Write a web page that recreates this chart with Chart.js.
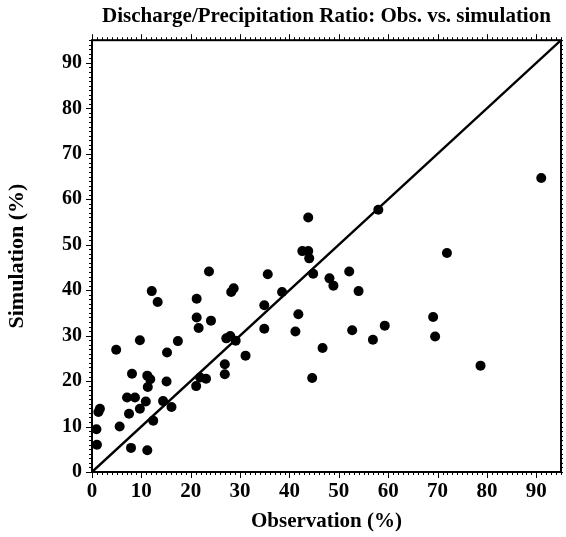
<!DOCTYPE html>
<html>
<head>
<meta charset="utf-8">
<script src="https://cdn.jsdelivr.net/npm/chart.js@4/dist/chart.umd.min.js"></script>
<style>
  html, body { margin: 0; padding: 0; background: #fff; }
  #wrap { width: 566px; height: 537px; }
</style>
</head>
<body>
<div id="wrap"><canvas id="c" width="566" height="537"></canvas></div>
<script>
const obsX = [4.9, 9.7, 17.4, 1.3, 1.6, 0.9, 1.0, 5.6, 7.1, 8.7, 8.1, 7.5, 7.9, 9.7, 10.9, 11.3, 11.2, 11.8, 11.2, 12.4,
  15.2, 15.1, 14.4, 16.1, 21.1, 21.9, 23.1, 26.9, 26.9, 27.2, 28.0, 29.1, 31.1,
  12.1, 13.3, 23.7, 21.2, 21.2, 21.6, 24.1, 28.2, 28.7, 34.9, 35.6, 34.9, 43.8, 58.0, 42.6, 43.8, 44.0, 44.8,
  48.1, 48.9, 52.1, 54.0, 38.5, 41.8, 41.2, 52.7, 59.3, 56.9, 46.7, 44.6, 69.1, 69.5, 78.7, 71.9, 91.0];
const simY = [26.9, 29.0, 28.8, 13.2, 13.9, 9.4, 6.0, 10.0, 16.4, 16.4, 21.6, 12.8, 5.3, 13.9, 15.5, 18.7, 21.2, 20.4, 4.8, 11.3,
  26.3, 19.9, 15.6, 14.3, 18.9, 20.8, 20.5, 23.7, 21.5, 29.4, 29.9, 28.9, 25.6,
  39.8, 37.4, 44.1, 38.1, 34.0, 31.7, 33.3, 39.6, 40.4, 36.7, 43.5, 31.5, 56.0, 57.7, 48.6, 48.6, 47.0, 43.6,
  42.6, 41.0, 44.1, 39.8, 39.6, 34.7, 30.9, 31.2, 32.2, 29.1, 27.3, 20.7, 34.1, 29.8, 23.4, 48.2, 64.7];
const lineX = [0, 95];
const lineY = [0, 95];
const tickValues = [0, 10, 20, 30, 40, 50, 60, 70, 80, 90];
const tickLabels = ['0', '10', '20', '30', '40', '50', '60', '70', '80', '90'];
const titleText = 'Discharge/Precipitation Ratio: Obs. vs. simulation';
const xTitle = 'Observation (%)';
const yTitle = 'Simulation (%)';

const SERIF = "'Liberation Serif', 'Times New Roman', serif";

const framePlugin = {
  id: 'frame',
  afterDraw(chart) {
    const { ctx, chartArea: { left, right, top, bottom }, scales: { x, y } } = chart;
    ctx.save();
    ctx.strokeStyle = '#000';
    ctx.lineWidth = 2;
    ctx.strokeRect(left, top, right - left, bottom - top);
    ctx.lineWidth = 1;
    ctx.beginPath();
    for (let v = 0; v <= 95; v++) {
      const px = Math.round(x.getPixelForValue(v)) + 0.5;
      const py = Math.round(y.getPixelForValue(v)) + 0.5;
      const major = v % 10 === 0;
      const L = major ? 6 : 3;
      ctx.moveTo(px, bottom); ctx.lineTo(px, bottom + L);
      ctx.moveTo(px, top); ctx.lineTo(px, top - L);
      ctx.moveTo(left, py); ctx.lineTo(left - L, py);
      ctx.moveTo(right, py); ctx.lineTo(right + 2, py);
    }
    ctx.stroke();
    ctx.restore();
  }
};

const setTicks = (scale) => { scale.ticks = tickValues.map(v => ({ value: v })); };

new Chart(document.getElementById('c'), {
  type: 'scatter',
  data: {
    datasets: [
      {
        data: obsX.map((v, i) => ({ x: v, y: simY[i] })),
        backgroundColor: '#000',
        borderColor: '#000',
        pointRadius: 5,
        pointHoverRadius: 5,
        borderWidth: 0
      },
      {
        type: 'line',
        data: lineX.map((v, i) => ({ x: v, y: lineY[i] })),
        borderColor: '#000',
        borderWidth: 2.4,
        pointRadius: 0,
        fill: false,
        tension: 0
      }
    ]
  },
  options: {
    responsive: false,
    animation: false,
    devicePixelRatio: 1,
    layout: { padding: { left: 0, right: 2, top: 0, bottom: 0 } },
    plugins: {
      legend: { display: false },
      tooltip: { enabled: false },
      title: {
        display: true,
        text: titleText,
        fullSize: false,
        color: '#000',
        font: { family: SERIF, size: 21, weight: 'bold' },
        padding: { top: 4, bottom: 11 }
      }
    },
    scales: {
      x: {
        type: 'linear',
        min: 0, max: 95,
        afterBuildTicks: setTicks,
        afterFit: (s) => { s.height = 65; },
        grid: { display: false, drawTicks: false },
        border: { display: false },
        ticks: {
          color: '#000',
          padding: 7,
          maxRotation: 0,
          font: { family: SERIF, size: 21, weight: 'bold' },
          callback: (v) => tickLabels[tickValues.indexOf(v)]
        },
        title: {
          display: true,
          text: xTitle,
          color: '#000',
          font: { family: SERIF, size: 21, weight: 'bold' },
          padding: { top: 0, bottom: 3 }
        }
      },
      y: {
        type: 'linear',
        min: 0, max: 95,
        afterBuildTicks: setTicks,
        afterFit: (s) => { s.width = 92; },
        grid: { display: false, drawTicks: false },
        border: { display: false },
        ticks: {
          color: '#000',
          padding: 10,
          font: { family: SERIF, size: 20, weight: 'bold' },
          callback: (v) => tickLabels[tickValues.indexOf(v)]
        },
        title: {
          display: true,
          text: yTitle,
          color: '#000',
          font: { family: SERIF, size: 22, weight: 'bold' },
          padding: { top: 4, bottom: 0 }
        }
      }
    }
  },
  plugins: [framePlugin]
});
</script>
</body>
</html>
